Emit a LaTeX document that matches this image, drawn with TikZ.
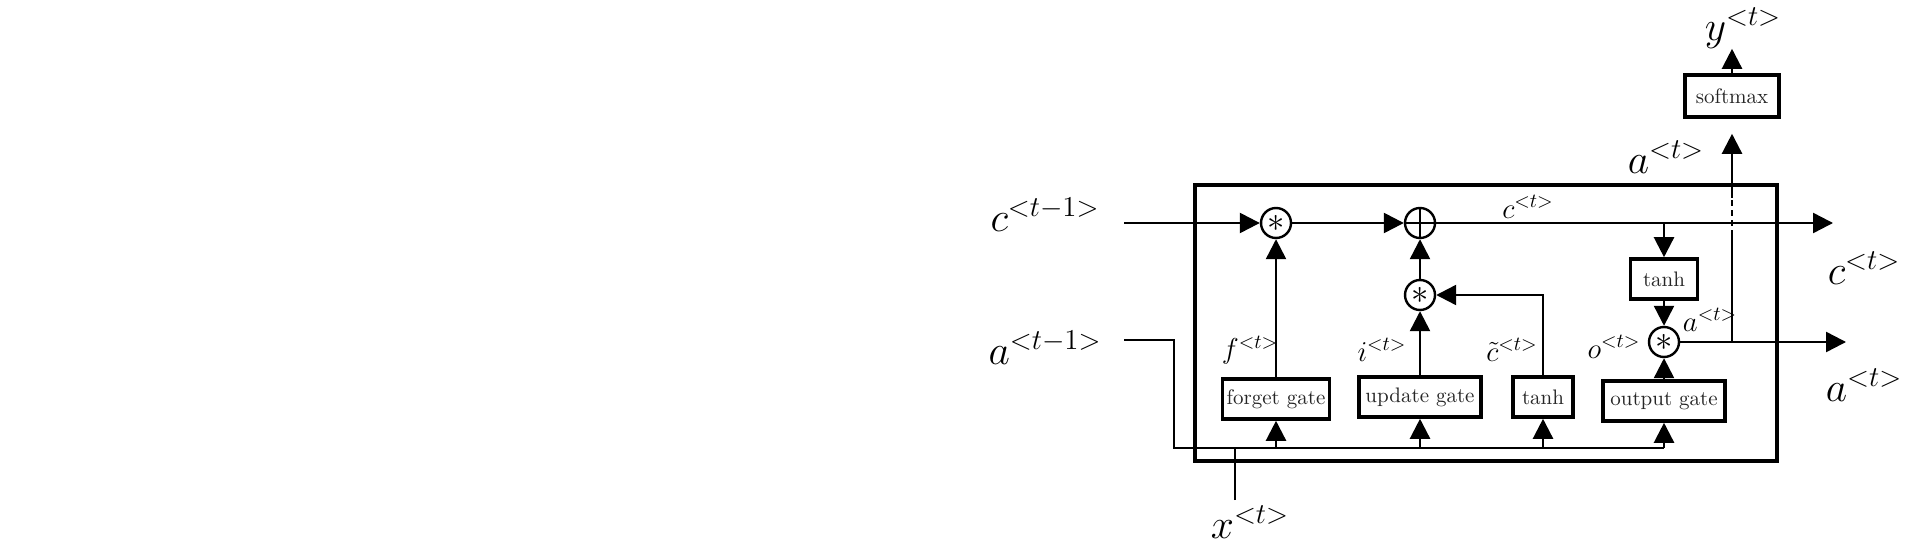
\documentclass[tikz,border=0pt]{standalone}
\usepackage{xcolor}
\usepackage{tikz}
\usetikzlibrary{arrows.meta}

\begin{document}
\begin{tikzpicture}[
  x=0.5pt, y=-0.5pt,
  gate/.style={draw, line width=1.8pt, minimum height=20pt, inner sep=1pt, font=\fontsize{10.5pt}{12pt}\selectfont, text=black!85},
  op/.style={draw, circle, line width=1.2pt, minimum size=15pt, inner sep=0pt, font=\fontsize{19pt}{19pt}\selectfont},
  flow/.style={-{Triangle[length=10pt,width=10pt]}, line width=1.2pt},
  wire/.style={line width=1.2pt},
  lbl/.style={inner sep=0pt, font=\fontsize{14pt}{16pt}\selectfont},
  biglbl/.style={inner sep=0pt, font=\fontsize{22pt}{26pt}\selectfont}
]
  \useasboundingbox (0,0) rectangle (1920,550);
  \draw[line width=1.8pt] (1195,185) rectangle (1777,461);

  \node[op] (fmul) at (1276,223) {$\ast$};
  \node[op] (add) at (1420,223) {};
  \draw[wire] (add.north) -- (add.south) (add.west) -- (add.east);
  \node[op] (imul) at (1420,295) {$\ast$};
  \node[op] (omul) at (1664,342) {$\ast$};

  \node[gate, minimum width=53.5pt] (fgate) at (1276,399) {forget gate};
  \node[gate, minimum width=61pt] (ugate) at (1420,397) {update gate};
  \node[gate, minimum width=30pt] (ctanh) at (1543,397) {tanh};
  \node[gate, minimum width=61pt] (ogate) at (1664,401) {output gate};
  \node[gate, minimum width=33.5pt] (htanh) at (1664,279) {tanh};
  \node[gate, minimum width=47pt, minimum height=21pt] (smax) at (1732,96) {softmax};

  \node[biglbl] (cprev) at (1045,215) {$c^{<t-1>}$};
  \node[biglbl] (aprev) at (1045,348) {$a^{<t-1>}$};
  \node[biglbl] (xlab) at (1250,522) {$x^{<t>}$};
  \node[biglbl] (cnext) at (1864,268) {$c^{<t>}$};
  \node[biglbl] (anext) at (1864,385) {$a^{<t>}$};
  \node[biglbl] (aup) at (1666,157) {$a^{<t>}$};
  \node[biglbl] (ylab) at (1743,28) {$y^{<t>}$};
  \node[lbl] (flab) at (1250,350) {$f^{<t>}$};
  \node[lbl] (ilab) at (1382,350) {$i^{<t>}$};
  \node[lbl] (ctlab) at (1512,350) {$\tilde{c}^{<t>}$};
  \node[lbl] (olab) at (1614,347) {$o^{<t>}$};
  \node[lbl] (ctop) at (1528,207) {$c^{<t>}$};
  \node[lbl] (asmall) at (1710,320) {$a^{<t>}$};

  \coordinate (cin) at (1124,223);
  \coordinate (cend) at (1833,223);
  \coordinate (ain) at (1124,340);
  \coordinate (acorner) at (1174,340);
  \coordinate (bus) at (1174,448);
  \coordinate (aend) at (1846,342);
  \coordinate (xin) at (1235,500);
  \coordinate (ajoin) at (1732,342);
  \coordinate (hoplo) at (1732,236);
  \coordinate (hophi) at (1732,198);

  \draw[flow] (cin) -- (fmul);
  \draw[flow] (fmul) -- (add);
  \draw[flow] (add) -- (cend);
  \draw[flow] (htanh.north |- add) -- (htanh);
  \draw[flow] (htanh) -- (omul);
  \draw[flow] (ogate) -- (omul);
  \draw[flow] (omul) -- (aend);
  \draw[wire] (ajoin) -- (hoplo);
  \draw[wire, dash pattern=on 3pt off 2pt] (hoplo) -- (hophi);
  \draw[flow, shorten >=7.5pt] (hophi) -- (smax);
  \draw[flow] (smax) -- (smax.north |- ylab.south);

  \draw[flow] (fgate) -- (fmul);
  \draw[flow] (ugate) -- (imul);
  \draw[flow] (imul) -- (add);
  \draw[flow] (ctanh.north) |- (imul);

  \draw[wire] (ain) -- (acorner) -- (bus) -- (ogate.south |- bus);
  \draw[flow] (fgate.south |- bus) -- (fgate);
  \draw[flow] (ugate.south |- bus) -- (ugate);
  \draw[flow] (ctanh.south |- bus) -- (ctanh);
  \draw[flow] (ogate.south |- bus) -- (ogate);
  \draw[wire] (xin) -- (xin |- bus);
\end{tikzpicture}
\end{document}
